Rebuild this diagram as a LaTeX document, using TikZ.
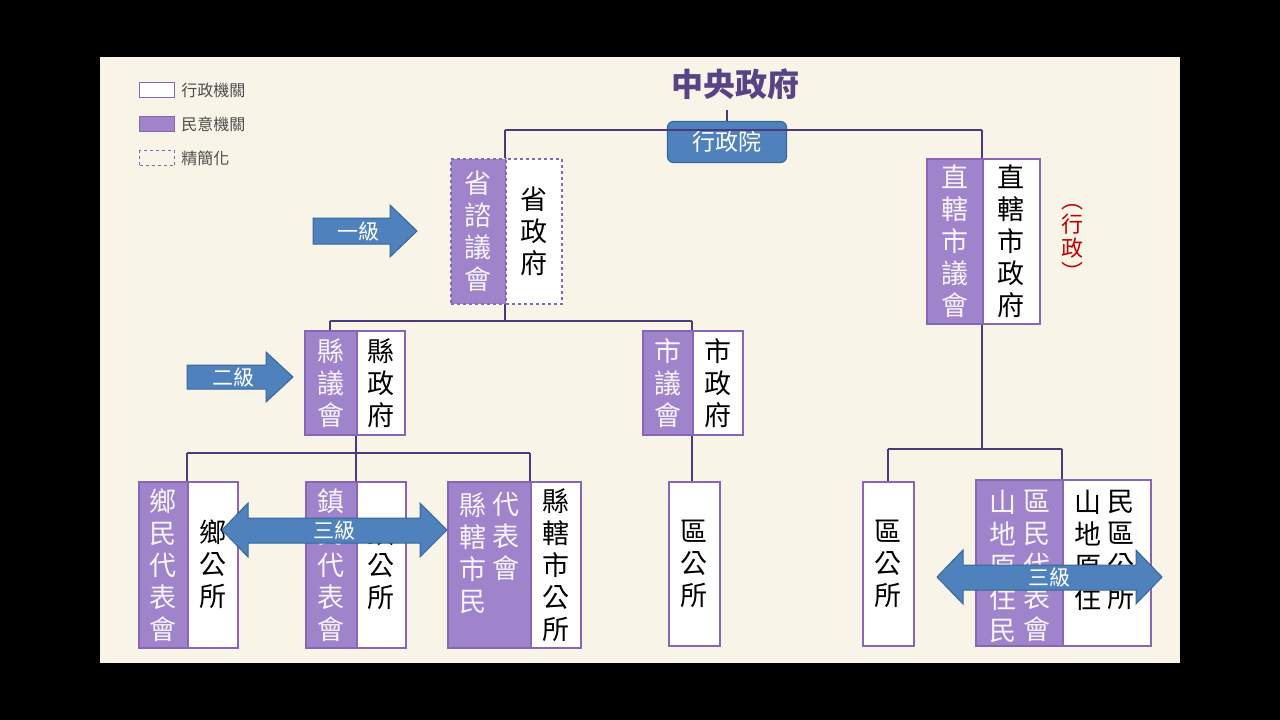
\documentclass[tikz,border=0pt]{standalone}
\usepackage{fontspec}
\setmainfont{Noto Sans CJK TC}
\usetikzlibrary{positioning}
\definecolor{bgbeige}{HTML}{F8F5E8}
\definecolor{purfill}{HTML}{9F83CB}
\definecolor{purline}{HTML}{8766B8}
\definecolor{arrfill}{HTML}{4F81BD}
\definecolor{arrline}{HTML}{35679C}
\definecolor{linecol}{HTML}{4B3A7A}
\tikzset{
  box/.style={draw=purline, line width=1.5pt, anchor=north west, inner sep=0pt, align=center,
    font=\fontsize{27}{32}\selectfont},
  pbox/.style={box, fill=purfill, text=white!92!purfill},
  wbox/.style={box, fill=white, text=black},
  link/.style={draw=linecol, line width=1.5pt},
  arr/.style={fill=arrfill, draw=arrline, line width=1pt},
  arrtext/.style={text=white, font=\fontsize{21}{24}\selectfont},
}
\newcommand\bx[6]{\node[#1, minimum width=#4pt, minimum height=#5pt] (#2) at #3 {#6};}
\begin{document}
\begin{tikzpicture}[x=1pt,y=-1pt]
\fill[black] (0,0) rectangle (1280,720);
\useasboundingbox (0,0) rectangle (1280,720);
\fill[bgbeige] (100,57) rectangle (1180,663);

% legend
\node[draw=purline, fill=white, line width=1.2pt, minimum width=35pt, minimum height=15pt, inner sep=0pt] (lgw) at (157,90) {};
\node[draw=purline, fill=purfill, line width=1.2pt, minimum width=35pt, minimum height=15pt, inner sep=0pt] (lgp) at (157,124) {};
\node[draw=purline, dashed, line width=1.2pt, minimum width=35pt, minimum height=15pt, inner sep=0pt] (lgd) at (157,158) {};
\foreach \n/\t in {lgw/行政機關, lgp/民意機關, lgd/精簡化}
  \node[right=6pt of \n, inner sep=0pt, text=black!70, font=\fontsize{16}{18}\selectfont] {\t};

% top
\node[text=linecol!80!purline, font=\bfseries\fontsize{32}{36}\selectfont] (title) at (735,84) {中央政府};
\node[fill=arrfill, draw=arrline, line width=1.2pt, rounded corners=6pt, minimum width=119pt, minimum height=41pt,
  text=white, font=\fontsize{23}{26}\selectfont] (exec) at (727,142) {行政院};

% links
\draw[link] (505,130) -- (982,130);
\draw[link] (exec.north) -- (727,110);
\draw[link] (505,130) -- (505,158);
\draw[link] (982,130) -- (982,158);
\draw[link] (505,303) -- (505,321);
\draw[link] (330,321) -- (692,321);
\draw[link] (330,321) -- (330,330);
\draw[link] (692,321) -- (692,330);
\draw[link] (356,434) -- (356,453);
\draw[link] (187,453) -- (530,453);
\foreach \x in {187,356,530} \draw[link] (\x,453) -- (\x,481);
\draw[link] (692,434) -- (692,481);
\draw[link] (982,323) -- (982,449);
\draw[link] (888,449) -- (1062,449);
\foreach \x in {888,1062} \draw[link] (\x,449) -- (\x,481);

% level 1
\bx{pbox,dashed}{provcouncil}{(450,158)}{55}{145}{省\\諮\\議\\會}
\bx{wbox,dashed}{provgov}{(505,158)}{56}{145}{省\\政\\府}
\bx{pbox}{citycouncil}{(926,158)}{56}{165}{直\\轄\\市\\議\\會}
\bx{wbox}{citygov}{(982,158)}{57}{165}{直\\轄\\市\\政\\府}
\node[text=red!75!black, align=center, inner sep=0pt, font=\fontsize{22}{24}\selectfont] (note) at (1072,242) {︵\\行\\政\\︶};

% level 2
\bx{pbox}{cntcouncil}{(304,330)}{52}{104}{縣\\議\\會}
\bx{wbox}{cntgov}{(356,330)}{48}{104}{縣\\政\\府}
\bx{pbox}{twcouncil}{(642,330)}{50}{104}{市\\議\\會}
\bx{wbox}{twgov}{(692,330)}{50}{104}{市\\政\\府}

% level 3
\bx{pbox}{vilcouncil}{(138,481)}{49}{166}{鄉\\民\\代\\表\\會}
\bx{wbox}{viloffice}{(187,481)}{50}{166}{鄉\\公\\所}
\bx{pbox}{tncouncil}{(305,481)}{51}{166}{鎮\\民\\代\\表\\會}
\bx{wbox}{tnoffice}{(356,481)}{49}{166}{鎮\\公\\所}
\bx{pbox}{ccouncil}{(447,481)}{83}{166}{}
\node[text=white!92!purfill, align=center, anchor=north, inner sep=0pt, font=\fontsize{27}{32}\selectfont] (cc1) at (473,492) {縣\\轄\\市\\民};
\node[text=white!92!purfill, align=center, anchor=north, inner sep=0pt, font=\fontsize{27}{32}\selectfont] (cc2) at (506,492) {代\\表\\會};
\bx{wbox}{coffice}{(530,481)}{50}{166}{縣\\轄\\市\\公\\所}
\bx{wbox}{dist1}{(668,481)}{51}{164}{區\\公\\所}
\bx{wbox}{dist2}{(862,481)}{51}{164}{區\\公\\所}
\bx{pbox}{mtcouncil}{(975,479)}{87}{166}{}
\node[text=white!92!purfill, align=center, anchor=north, inner sep=0pt, font=\fontsize{27}{32}\selectfont] (mc1) at (1003,490) {山\\地\\原\\住\\民};
\node[text=white!92!purfill, align=center, anchor=north, inner sep=0pt, font=\fontsize{27}{32}\selectfont] (mc2) at (1037,490) {區\\民\\代\\表\\會};
\bx{wbox}{mtoffice}{(1062,479)}{88}{166}{}
\node[align=center, anchor=north, inner sep=0pt, font=\fontsize{27}{32}\selectfont] (mo1) at (1088,490) {山\\地\\原\\住};
\node[align=center, anchor=north, inner sep=0pt, font=\fontsize{27}{32}\selectfont] (mo2) at (1121,490) {民\\區\\公\\所};

% level arrows
\draw[arr] (313,218) -- (390,218) -- (390,205) -- (417,231) -- (390,257) -- (390,244) -- (313,244) -- cycle;
\node[arrtext] (lv1) at (358,231) {一級};
\draw[arr] (187,365) -- (266,365) -- (266,352) -- (293,377) -- (266,402) -- (266,389) -- (187,389) -- cycle;
\node[arrtext] (lv2) at (233,377) {二級};
\draw[arr] (222,530) -- (248,503) -- (248,518) -- (420,518) -- (420,503) -- (447,530)
  -- (420,557) -- (420,543) -- (248,543) -- (248,557) -- cycle;
\node[arrtext] (lv3a) at (334,530) {三級};
\draw[arr] (937,577) -- (963,550) -- (963,565) -- (1136,565) -- (1136,550) -- (1162,577)
  -- (1136,604) -- (1136,590) -- (963,590) -- (963,604) -- cycle;
\node[arrtext] (lv3b) at (1049,577) {三級};
\end{tikzpicture}
\end{document}
